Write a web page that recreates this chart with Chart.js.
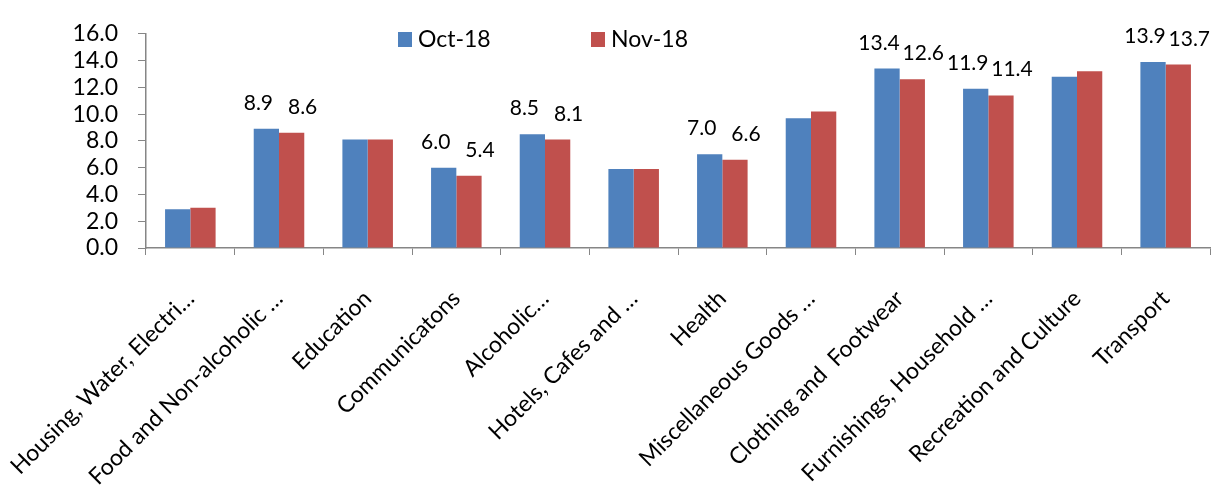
<!DOCTYPE html>
<html>
<head>
<meta charset="utf-8">
<script src="https://cdn.jsdelivr.net/npm/chart.js@4/dist/chart.umd.min.js"></script>
<style>
  html, body { margin: 0; padding: 0; background: #fff; }
  #wrap { width: 1219px; height: 486px; }
</style>
</head>
<body>
<div id="wrap"><canvas id="chart"></canvas></div>
<script>
const categories = [
  'Housing, Water, Electri…', 'Food and Non-alcoholic …', 'Education', 'Communicatons',
  'Alcoholic…', 'Hotels, Cafes and …', 'Health', 'Miscellaneous Goods …',
  'Clothing and  Footwear', 'Furnishings, Household …', 'Recreation and Culture', 'Transport'
];
const oct18 = [2.9, 8.9, 8.1, 6.0, 8.5, 5.9, 7.0, 9.7, 13.4, 11.9, 12.8, 13.9];
const nov18 = [3.0, 8.6, 8.1, 5.4, 8.1, 5.9, 6.6, 10.2, 12.6, 11.4, 13.2, 13.7];
// only these categories carry value labels in the original
const showLabel = [false, true, false, true, true, false, true, false, true, true, false, true];
const yTicks = [0, 2, 4, 6, 8, 10, 12, 14, 16];

const FONT = 'Lato';
const ctx = document.getElementById('chart');

const valueLabels = {
  id: 'valueLabels',
  afterDatasetsDraw(chart) {
    const c = chart.ctx;
    c.save();
    c.font = '21px ' + FONT;
    c.fillStyle = '#000';
    c.textAlign = 'center';
    c.textBaseline = 'alphabetic';
    chart.data.datasets.forEach((ds, di) => {
      const meta = chart.getDatasetMeta(di);
      meta.data.forEach((bar, i) => {
        if (!showLabel[i]) return;
        const dx = di === 0 ? -8 : 11;
        c.fillText(ds.data[i].toFixed(1), bar.x + dx, bar.y - 19);
      });
    });
    c.restore();
  }
};

const topLegend = {
  id: 'topLegend',
  afterDraw(chart) {
    const c = chart.ctx;
    c.save();
    c.font = '23px ' + FONT;
    c.textBaseline = 'middle';
    c.textAlign = 'left';
    const items = [[398, 'Oct-18', '#4F81BD'], [591, 'Nov-18', '#C0504D']];
    items.forEach(([x, txt, col]) => {
      c.fillStyle = col;
      c.fillRect(x, 32, 14, 15);
      c.fillStyle = '#000';
      c.fillText(txt, x + 20, 40);
    });
    c.restore();
  }
};

new Chart(ctx, {
  type: 'bar',
  data: {
    labels: categories,
    datasets: [
      { label: 'Oct-18', data: oct18, backgroundColor: '#4F81BD', borderWidth: 0 },
      { label: 'Nov-18', data: nov18, backgroundColor: '#C0504D', borderWidth: 0 }
    ]
  },
  options: {
    responsive: true, maintainAspectRatio: false, animation: false,
    layout: { padding: { top: 22, right: 9, bottom: 0, left: 0 } },
    datasets: { bar: { categoryPercentage: 0.57, barPercentage: 1.0 } },
    plugins: { legend: { display: false }, tooltip: { enabled: false } },
    scales: {
      x: {
        grid: { drawOnChartArea: false, drawTicks: true, tickLength: 7, color: '#868686', offset: true },
        border: { color: '#868686', width: 1.5 },
        ticks: { color: '#000', font: { family: FONT, size: 23 }, maxRotation: 45, minRotation: 45, autoSkip: false, padding: 30 },
        afterFit: s => { s.height = 238; s.paddingLeft = 0; s.paddingRight = 0; }
      },
      y: {
        min: 0, max: 16,
        afterBuildTicks: s => { s.ticks = yTicks.map(v => ({ value: v })); },
        grid: { drawOnChartArea: false, drawTicks: true, tickLength: 8, color: '#868686' },
        border: { color: '#868686', width: 1.5 },
        ticks: { color: '#000', font: { family: FONT, size: 23 }, padding: 20, autoSkip: false, callback: v => v.toFixed(1) },
        afterFit: s => { s.width = 146; }
      }
    }
  },
  plugins: [valueLabels, topLegend]
});
</script>
</body>
</html>
